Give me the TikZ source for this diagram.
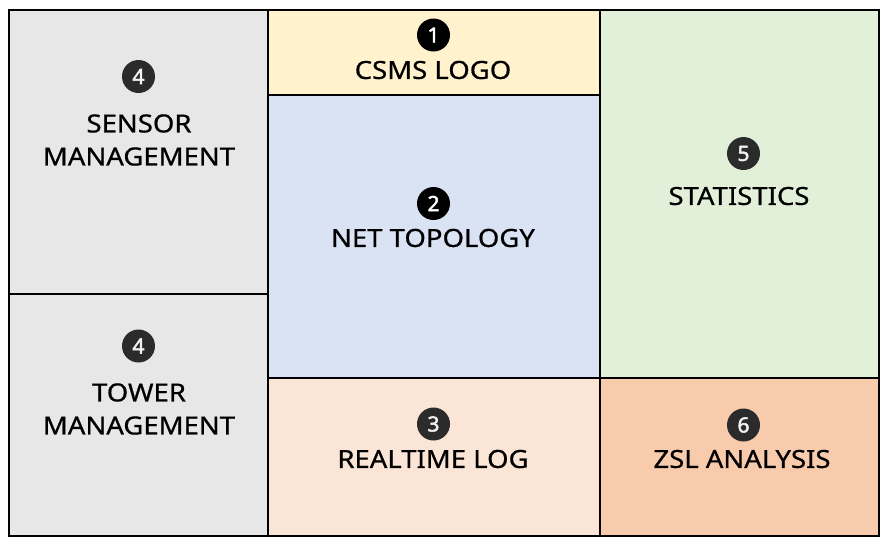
\documentclass[tikz,border=0pt]{standalone}
\usepackage{fontspec}
\setmainfont[FakeStretch=1.1, FakeBold=0.7]{Noto Sans}
\newfontfamily\badgefont[FakeBold=2.2]{Noto Sans}
\begin{document}
\begin{tikzpicture}[x=1pt,y=-1pt,
  cell/.style={draw=black, line width=2.8pt, rectangle, inner sep=0pt, outer sep=0pt},
  badge/.style={circle, fill=badgegray, text=badgetext, inner sep=0pt, minimum size=33pt,
    font=\badgefont\fontsize{21}{21}\selectfont},
  label/.style={align=center, font=\fontsize{25}{33}\selectfont, text=black}]
\definecolor{badgegray}{HTML}{2B2B2B}
\definecolor{badgetext}{HTML}{F2F2F2}
\definecolor{cgray}{HTML}{E7E7E7}
\definecolor{cyellow}{HTML}{FFF2CC}
\definecolor{cblue}{HTML}{DAE3F3}
\definecolor{cpeach}{HTML}{FBE5D6}
\definecolor{cgreen}{HTML}{E2F0D9}
\definecolor{corange}{HTML}{F8CBAD}
\useasboundingbox[fill=white] (0,0) rectangle (894,542);
% layout cells
\node[cell, fill=cgray,   minimum width=259pt, minimum height=284pt] (sensor) at (138.5,152) {};
\node[cell, fill=cgray,   minimum width=259pt, minimum height=242pt] (tower)  at (138.5,415) {};
\node[cell, fill=cyellow, minimum width=332pt, minimum height=85pt]  (logo)   at (434,52.5) {};
\node[cell, fill=cblue,   minimum width=332pt, minimum height=283pt] (net)    at (434,236.5) {};
\node[cell, fill=cpeach,  minimum width=332pt, minimum height=158pt] (rtlog)  at (434,457) {};
\node[cell, fill=cgreen,  minimum width=279pt, minimum height=368pt] (stats)  at (739.5,194) {};
\node[cell, fill=corange, minimum width=279pt, minimum height=158pt] (zsl)    at (739.5,457) {};
% numbered badges
\node[badge] (b4a) at (138.5,76.5) {4};
\node[badge, fill=black, text=white] (b1) at (433.5,35) {1};
\node[badge, fill=black, text=white] (b2) at (433.5,203.5) {2};
\node[badge] (b5) at (743.5,153.5) {5};
\node[badge] (b4b) at (138.5,346) {4};
\node[badge] (b3) at (433.5,424) {3};
\node[badge] (b6) at (743.5,425) {6};
% titles
\node[label] (tsensor) at (139,140) {SENSOR\\MANAGEMENT};
\node[label] (ttower)  at (139,409) {TOWER\\MANAGEMENT};
\node[label] (tlogo)   at (433,70)  {CSMS LOGO};
\node[label] (tnet)    at (433,238) {NET TOPOLOGY};
\node[label] (tstats)  at (739,196) {STATISTICS};
\node[label] (trtlog)  at (433,459) {REALTIME LOG};
\node[label] (tzsl)    at (742,459) {ZSL ANALYSIS};
\end{tikzpicture}
\end{document}
